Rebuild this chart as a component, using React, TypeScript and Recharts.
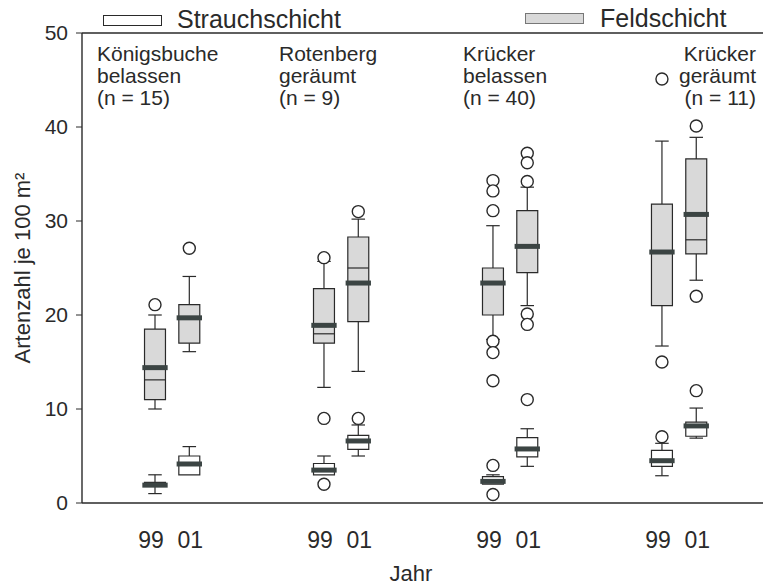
import React from "react";
import {
  ComposedChart,
  XAxis,
  YAxis,
  Scatter,
  ReferenceArea,
  ReferenceLine,
} from "recharts";

// Standorte / Behandlung / Stichprobe
const groupNames = ["Königsbuche", "Rotenberg", "Krücker", "Krücker"];
const groupTreatments = ["belassen", "geräumt", "belassen", "geräumt"];
const groupN = [15, 9, 40, 11];
const yearLabels = ["99", "01"];
const yTicks = [0, 10, 20, 30, 40, 50];

// Feldschicht, order: g1-99, g1-01, g2-99, g2-01, g3-99, g3-01, g4-99, g4-01
const feldLow = [10.0, 16.1, 12.3, 14.0, 17.4, 21.0, 16.7, 23.7];
const feldQ1 = [11.0, 17.0, 17.0, 19.3, 20.0, 24.5, 21.0, 26.5];
const feldMedian = [13.1, 19.7, 18.0, 25.0, 23.4, 27.3, 26.7, 28.0];
const feldMean = [14.4, 19.7, 18.9, 23.4, 23.4, 27.3, 26.7, 30.7];
const feldQ3 = [18.5, 21.1, 22.8, 28.3, 25.0, 31.1, 31.8, 36.6];
const feldHigh = [20.0, 24.1, 25.7, 30.2, 29.5, 33.6, 38.5, 38.9];
const feldOutliers = [
  [21.1],
  [27.1],
  [26.1],
  [31.0],
  [34.3, 33.2, 31.1, 17.2, 16.0, 13.0],
  [37.2, 36.2, 34.2, 20.1, 19.0],
  [45.1, 15.0],
  [40.1, 22.0],
];

// Strauchschicht
const strauchLow = [1.0, 3.0, 3.0, 5.0, 2.0, 3.9, 2.9, 6.9];
const strauchQ1 = [1.8, 3.0, 3.0, 5.7, 2.0, 4.9, 3.9, 7.1];
const strauchMedian = [2.0, 4.0, 3.5, 6.6, 2.3, 5.75, 4.5, 8.2];
const strauchMean = [1.9, 4.15, 3.5, 6.6, 2.3, 5.75, 4.5, 8.2];
const strauchQ3 = [2.2, 5.0, 4.2, 7.2, 2.8, 6.95, 5.6, 8.6];
const strauchHigh = [3.0, 6.0, 5.0, 8.3, 3.0, 7.9, 6.35, 10.1];
const strauchOutliers = [[], [], [9.0, 2.0], [9.0], [4.0, 0.9], [11.0], [7.05], [11.95]];

const FONT = "'Liberation Sans', Arial, sans-serif";
const INK = "#2a2a2a";
const YEAR_OFFSET = [0.432, 0.635];
const HALF_BOX = 0.062;
const HALF_MEAN = 0.075;
const HALF_CAP = 0.04;

const boxX = (i: number) => Math.floor(i / 2) + YEAR_OFFSET[i % 2];
const boxXs = feldQ1.map((_, i) => boxX(i));

function boxElements(
  prefix: string,
  low: number[],
  q1: number[],
  median: number[],
  mean: number[],
  q3: number[],
  high: number[],
  fill: string
) {
  const areas: React.ReactNode[] = [];
  const lines: React.ReactNode[] = [];
  q1.forEach((_, i) => {
    const x = boxX(i);
    areas.push(
      <ReferenceArea
        key={`${prefix}-box-${i}`}
        x1={x - HALF_BOX}
        x2={x + HALF_BOX}
        y1={q1[i]}
        y2={q3[i]}
        fill={fill}
        fillOpacity={1}
        stroke={INK}
        strokeWidth={1.2}
      />
    );
    if (high[i] > q3[i]) {
      lines.push(
        <ReferenceLine key={`${prefix}-wh-${i}`} segment={[{ x, y: q3[i] }, { x, y: high[i] }]} stroke={INK} strokeWidth={1.2} />,
        <ReferenceLine key={`${prefix}-ch-${i}`} segment={[{ x: x - HALF_CAP, y: high[i] }, { x: x + HALF_CAP, y: high[i] }]} stroke={INK} strokeWidth={1.2} />
      );
    }
    if (low[i] < q1[i]) {
      lines.push(
        <ReferenceLine key={`${prefix}-wl-${i}`} segment={[{ x, y: low[i] }, { x, y: q1[i] }]} stroke={INK} strokeWidth={1.2} />,
        <ReferenceLine key={`${prefix}-cl-${i}`} segment={[{ x: x - HALF_CAP, y: low[i] }, { x: x + HALF_CAP, y: low[i] }]} stroke={INK} strokeWidth={1.2} />
      );
    }
    lines.push(
      <ReferenceLine key={`${prefix}-md-${i}`} segment={[{ x: x - HALF_BOX, y: median[i] }, { x: x + HALF_BOX, y: median[i] }]} stroke={INK} strokeWidth={1.2} />,
      <ReferenceLine key={`${prefix}-mn-${i}`} segment={[{ x: x - HALF_MEAN, y: mean[i] }, { x: x + HALF_MEAN, y: mean[i] }]} stroke="#3b4443" strokeWidth={5} />
    );
  });
  return { areas, lines };
}

const outlierData = [...feldOutliers, ...strauchOutliers].flatMap((vals, k) =>
  vals.map((y) => ({ x: boxX(k % 8), y }))
);

const YearTick = (props: any) => {
  const { x, y, payload } = props;
  const idx = boxXs.findIndex((v) => Math.abs(v - payload.value) < 1e-6);
  const label = yearLabels[idx % 2];
  return (
    <text x={x + (idx % 2 === 0 ? -4 : 1)} y={y + 45} textAnchor="middle" fontSize={23} fontFamily={FONT} fill={INK}>
      {label}
    </text>
  );
};

const YTick = (props: any) => {
  const { x, y, payload } = props;
  return (
    <text x={x} y={y} dy={7} textAnchor="end" fontSize={21} fontFamily={FONT} fill={INK}>
      {payload.value}
    </text>
  );
};

const OutlierDot = (props: any) => (
  <circle cx={props.cx} cy={props.cy} r={6} fill="#fff" stroke={INK} strokeWidth={1.4} />
);

export default function App() {
  const feld = boxElements("f", feldLow, feldQ1, feldMedian, feldMean, feldQ3, feldHigh, "#d9d9d9");
  const strauch = boxElements("s", strauchLow, strauchQ1, strauchMedian, strauchMean, strauchQ3, strauchHigh, "#ffffff");

  const labelStyle: React.CSSProperties = {
    position: "absolute",
    fontFamily: FONT,
    fontSize: 21,
    lineHeight: "21px",
    color: INK,
    whiteSpace: "nowrap",
  };

  return (
    <div style={{ position: "absolute", left: 0, top: 0, width: 763, height: 587, background: "#fff" }}>
      <ComposedChart width={763} height={587} margin={{ top: 33, right: 0, bottom: 0, left: 0 }}>
        <XAxis
          type="number"
          dataKey="x"
          domain={[0, 4.03]}
          ticks={boxXs}
          interval={0}
          allowDataOverflow
          height={84}
          tickLine={false}
          tickSize={0}
          tickMargin={0}
          tick={<YearTick />}
          axisLine={{ stroke: INK, strokeWidth: 1.4 }}
          label={{
            content: () => (
              <text x={411} y={581} textAnchor="middle" fontSize={22} fontFamily={FONT} fill={INK}>
                Jahr
              </text>
            ),
          }}
        />
        <YAxis
          type="number"
          dataKey="y"
          domain={[0, 50]}
          ticks={yTicks}
          width={82}
          tickSize={6}
          tickMargin={8}
          tick={<YTick />}
          tickLine={{ stroke: INK }}
          axisLine={{ stroke: INK, strokeWidth: 1.4 }}
          label={{
            content: (p: any) => {
              const vb = p.viewBox || { y: 33, height: 470 };
              const cy = vb.y + vb.height / 2;
              return (
                <text
                  x={22}
                  y={cy}
                  transform={`rotate(-90, 22, ${cy})`}
                  textAnchor="middle"
                  dominantBaseline="central"
                  fontSize={22}
                  fontFamily={FONT}
                  fill={INK}
                >
                  Artenzahl je 100 m²
                </text>
              );
            },
          }}
        />
        <ReferenceLine y={50} stroke={INK} strokeWidth={1.4} />
        {feld.areas}
        {strauch.areas}
        {feld.lines}
        {strauch.lines}
        <Scatter
          name="Ausreißer"
          data={outlierData}
          shape={<OutlierDot />}
          isAnimationActive={false}
        />
      </ComposedChart>

      {/* Legende */}
      <div style={{ position: "absolute", left: 103, top: 15, width: 57, height: 9, border: `1px solid ${INK}`, background: "#fff" }} />
      <div style={{ ...labelStyle, left: 177, top: 6, fontSize: 25, lineHeight: "26px" }}>Strauchschicht</div>
      <div style={{ position: "absolute", left: 525, top: 13, width: 57, height: 9, border: "1px solid #777", background: "#d9d9d9" }} />
      <div style={{ ...labelStyle, left: 600, top: 5, fontSize: 25, lineHeight: "26px" }}>Feldschicht</div>

      {/* Standortbeschriftung */}
      {groupNames.map((name, g) => {
        const pos: React.CSSProperties =
          g === 3 ? { right: 763 - 756, textAlign: "right" } : { left: [97, 279, 463][g] };
        const lines = [name, groupTreatments[g], `(n = ${groupN[g]})`];
        return lines.map((t, l) => (
          <div key={`${g}-${l}`} style={{ ...labelStyle, top: 43 + l * 22, ...pos }}>
            {t}
          </div>
        ));
      })}
    </div>
  );
}
